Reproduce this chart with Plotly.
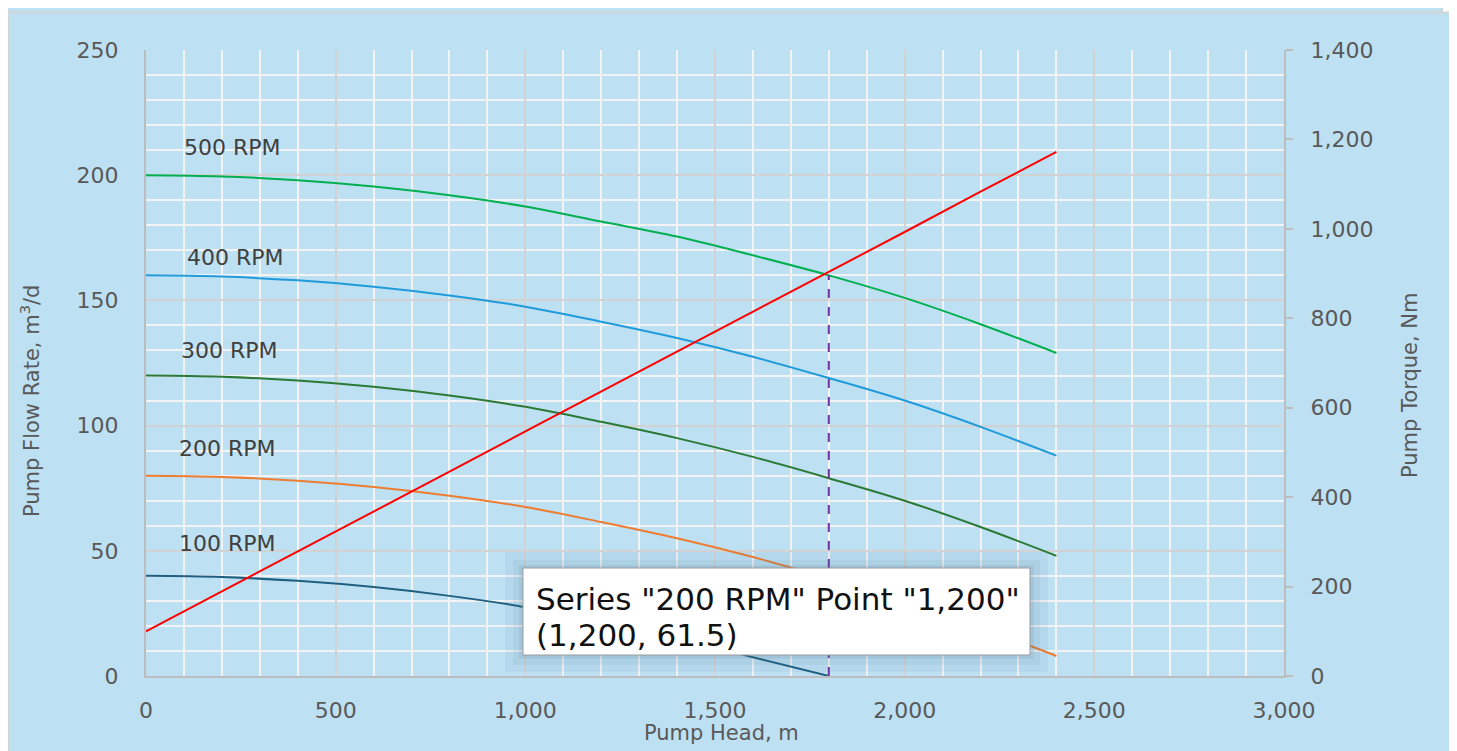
import plotly.graph_objects as go

# ---------------- data ----------------
head = [0, 200, 400, 600, 800, 1000, 1200, 1400, 1600, 1800, 2000, 2200, 2400]
flow_500 = [200, 199.5, 198, 195.5, 192, 187.5, 181.5, 175.5, 168, 160, 151, 140.5, 129]
flow_400 = [160, 159.5, 158, 155.5, 152, 147.5, 141.5, 135, 127.5, 119, 110, 99.5, 88]
flow_300 = [120, 119.5, 118, 115.5, 112, 107.5, 101.5, 95, 87.5, 79, 70, 59.5, 48]
flow_200 = [80, 79.5, 78, 75.5, 72, 67.5, 61.5, 55, 47.5, 39, 30, 19.5, 8]
head_100 = [0, 200, 400, 600, 800, 1000, 1200, 1400, 1600, 1800]
flow_100 = [40, 39.5, 38, 35.5, 32, 27.5, 21.5, 15, 7.5, 0]
torque = [100, 189, 279, 368, 457, 547, 636, 725, 815, 904, 993, 1083, 1172]
marker_head = [1800, 1800]
marker_flow = [0, 160]

series_names = ["500 RPM", "400 RPM", "300 RPM", "200 RPM", "100 RPM"]
label_x = [227, 237, 219, 214, 214]
label_y = [211, 167, 130, 91, 53]

x_ticks = [0, 500, 1000, 1500, 2000, 2500, 3000]
tooltip_lines = ['Series "200 RPM" Point "1,200"', "(1,200, 61.5)"]

# ---------------- layout helpers ----------------
# the page body has an 8px margin, so the figure is drawn 8px in from the top-left
OFF = 8
W, H = 1457 - OFF, 751 - OFF
# plot area edges in reference-screenshot pixels
L_REF, R_REF, T_REF, B_REF = 146, 1284, 50, 676
L, R, T, B = L_REF - OFF, R_REF - OFF, T_REF - OFF, B_REF - OFF


def px(x):
    return (x - L_REF) / (R_REF - L_REF)


def py(y):
    return (B_REF - y) / (B_REF - T_REF)


BLUE = "#BEE0F3"
GRAY = "#BDBDBD"
TXT = "#595959"
FONT = "DejaVu Sans"

fig = go.Figure()

colors = ["#00B050", "#1F9BDB", "#2A7A36", "#ED7D31", "#1F5F80"]
xs = [head, head, head, head, head_100]
ys = [flow_500, flow_400, flow_300, flow_200, flow_100]
for name, c, x, y in zip(series_names, colors, xs, ys):
    fig.add_trace(go.Scatter(x=x, y=y, mode="lines", name=name,
                             line=dict(color=c, width=2, shape="spline")))

fig.add_trace(go.Scatter(x=marker_head, y=marker_flow, mode="lines",
                         line=dict(color="#7030A0", width=2, dash="dash")))
fig.add_trace(go.Scatter(x=head, y=torque, mode="lines", yaxis="y2",
                         line=dict(color="#FF0000", width=2)))

annotations = []
for name, lx, ly in zip(series_names, label_x, label_y):
    annotations.append(dict(x=lx, y=ly, xref="x", yref="y", text=name, showarrow=False,
                            xanchor="center", yanchor="middle",
                            font=dict(family=FONT, size=22, color="#404040")))

annotations += [
    dict(x=px(30), y=py(401), xref="paper", yref="paper", text="Pump Flow Rate, m<sup>3</sup>/d",
         xanchor="center", yanchor="middle",
         textangle=-90, showarrow=False, font=dict(family=FONT, size=21, color=TXT)),
    dict(x=px(1410), y=py(385), xref="paper", yref="paper", text="Pump Torque, Nm",
         xanchor="center", yanchor="middle",
         textangle=-90, showarrow=False, font=dict(family=FONT, size=21, color=TXT)),
    dict(x=px(721), y=py(733), xref="paper", yref="paper", text="Pump Head, m",
         xanchor="center", yanchor="middle",
         showarrow=False, font=dict(family=FONT, size=21, color=TXT)),
    dict(x=px(534), y=py(599), xref="paper", yref="paper", xanchor="left", yanchor="middle",
         text=tooltip_lines[0], align="left", showarrow=False,
         font=dict(family=FONT, size=31, color="#111111")),
    dict(x=px(534), y=py(635), xref="paper", yref="paper", xanchor="left", yanchor="middle",
         text=tooltip_lines[1], align="left", showarrow=False,
         font=dict(family=FONT, size=31, color="#111111")),
]

shapes = [
    # stacked frames of the screenshot
    dict(type="rect", xref="paper", yref="paper", x0=px(3), x1=px(1442), y0=py(3.5), y1=py(743),
         fillcolor=BLUE, line=dict(color="#D4D4D4", width=2), layer="below"),
    dict(type="rect", xref="paper", yref="paper", x0=px(8.5), x1=px(1452), y0=py(12.5), y1=py(770),
         fillcolor=BLUE, line=dict(color="#D4D4D4", width=2), layer="below"),
    # tooltip shadow + box
    dict(type="rect", xref="paper", yref="paper", x0=px(505), x1=px(1048), y0=py(552), y1=py(672),
         fillcolor="rgba(70,110,140,0.06)", line=dict(width=0), layer="above"),
    dict(type="rect", xref="paper", yref="paper", x0=px(513), x1=px(1040), y0=py(560), y1=py(665),
         fillcolor="rgba(70,110,140,0.08)", line=dict(width=0), layer="above"),
    dict(type="rect", xref="paper", yref="paper", x0=px(519), x1=px(1034), y0=py(565), y1=py(659),
         fillcolor="rgba(70,110,140,0.10)", line=dict(width=0), layer="above"),
    dict(type="rect", xref="paper", yref="paper", x0=px(523), x1=px(1030), y0=py(568), y1=py(655),
         fillcolor="white", line=dict(color="#9A9A9A", width=1), layer="above"),
]

fig.update_layout(
    width=W, height=H,
    margin=dict(l=L, r=W - R, t=T, b=H - B, pad=0),
    paper_bgcolor="white",
    plot_bgcolor=BLUE,
    showlegend=False,
    font=dict(family=FONT, size=22, color=TXT),
    annotations=annotations,
    shapes=shapes,
    xaxis=dict(range=[0, 3000], tickvals=x_ticks, tickformat=",d", showgrid=True,
               gridcolor="#D2D2D2", gridwidth=2, zeroline=False,
               showline=True, linecolor=GRAY, linewidth=2, ticks="",
               ticklabelstandoff=14,
               tickfont=dict(family=FONT, size=22, color=TXT),
               minor=dict(dtick=100, showgrid=True, gridcolor="#F3F3F3", gridwidth=2)),
    yaxis=dict(range=[0, 250], dtick=50, showgrid=True, gridcolor="#D2D2D2", gridwidth=2,
               zeroline=False, showline=True, linecolor=GRAY, linewidth=2, ticks="",
               ticklabelstandoff=21,
               tickfont=dict(family=FONT, size=22, color=TXT),
               minor=dict(dtick=10, showgrid=True, gridcolor="#F3F3F3", gridwidth=2)),
    yaxis2=dict(range=[0, 1400], dtick=200, tickformat=",d", overlaying="y", side="right",
                showgrid=False, zeroline=False, showline=True, linecolor=GRAY, linewidth=2,
                ticks="outside", ticklen=7, tickcolor=GRAY, tickwidth=1.5,
                ticklabelstandoff=13,
                tickfont=dict(family=FONT, size=22, color=TXT)),
)

fig.write_html("out.html")
